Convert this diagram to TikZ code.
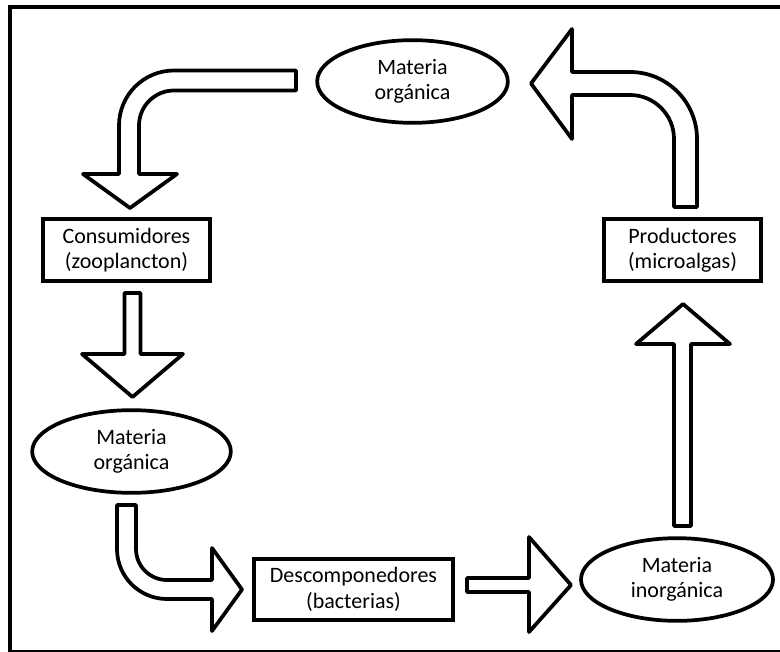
\documentclass[tikz,border=0pt]{standalone}
\usepackage{fontspec}
\setmainfont{Carlito}
\usetikzlibrary{shapes.geometric}

\tikzset{
  caja/.style={draw, line width=2.8pt, inner sep=0pt, minimum height=46pt, align=center},
  materia/.style={draw, ellipse, line width=2.8pt, inner sep=0pt, minimum height=62pt, align=center},
  flecha/.style={draw, line width=2.8pt, line join=round, fill=white}
}

\begin{document}
\begin{tikzpicture}[x=0.75pt, y=0.75pt]
 \useasboundingbox (0,0) rectangle (780,651);
 \draw[line width=3pt] (10,-1.2) rectangle (784,644);

 \begin{scope}[every node/.style={font=\fontsize{16.5}{19}\selectfont}]
   \node (mo1) [materia, minimum width=143pt] at (412.5,569.5) {Materia\\orgánica};
   \node (cons) [caja, minimum width=125pt] at (126.5,401) {Consumidores\\(zooplancton)};
   \node (mo2) [materia, minimum width=149pt] at (131.5,199.5) {Materia\\orgánica};
   \node (desc) [caja, minimum width=149pt] at (353.5,61.5) {Descomponedores\\(bacterias)};
   \node (mi) [materia, minimum width=144pt] at (677,71.5) {Materia\\inorgánica};
   \node (prod) [caja, minimum width=118pt] at (682.5,401) {Productores\\(microalgas)};
 \end{scope}

 % mo1 -> cons
 \draw[flecha] (296,580.5) -- (174,580.5) arc[start angle=90, end angle=180, radius=41.25pt]
   -- (119,477) -- (83,477) -- (130,443) -- (177,477) -- (139,477) -- (139,525.5)
   arc[start angle=180, end angle=90, radius=26.25pt] -- (296,560.5) -- cycle;
 % cons -> mo2
 \draw[flecha] (124.5,358) -- (124.5,297) -- (82,297) -- (132.5,254) -- (183,297)
   -- (140.5,297) -- (140.5,358) -- cycle;
 % mo2 -> desc
 \draw[flecha] (117,146) -- (117,102) arc[start angle=180, end angle=270, radius=37.5pt]
   -- (212,52) -- (212,20) -- (242,61.5) -- (212,103) -- (212,71) -- (167,71)
   arc[start angle=270, end angle=180, radius=23.25pt] -- (136,146) -- cycle;
 % desc -> mi
 \draw[flecha] (467,73) -- (529,73) -- (529,114) -- (571,66) -- (529,19) -- (529,59)
   -- (467,59) -- cycle;
 % mi -> prod
 \draw[flecha] (674,125) -- (674,307) -- (636,307) -- (683,347) -- (730,307)
   -- (691,307) -- (691,125) -- cycle;
 % prod -> mo1
 \draw[flecha] (697,444) -- (697,512) arc[start angle=0, end angle=90, radius=50.25pt]
   -- (572,579) -- (572,622) -- (531,567.5) -- (572,512) -- (572,556) -- (630,556)
   arc[start angle=90, end angle=0, radius=33pt] -- (674,444) -- cycle;
\end{tikzpicture}
\end{document}
